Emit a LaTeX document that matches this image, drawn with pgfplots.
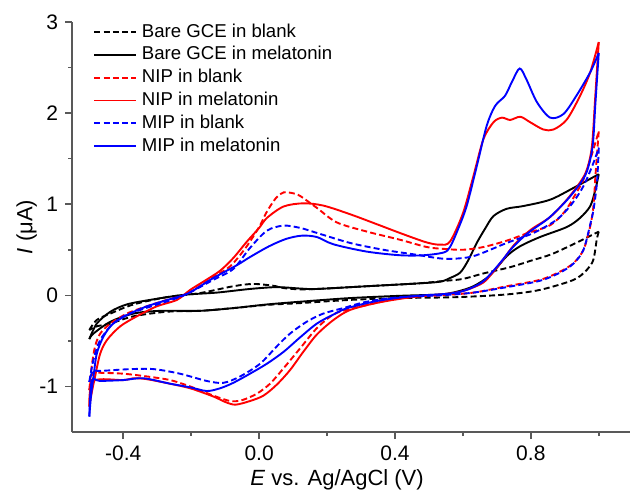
\documentclass[border=0pt]{standalone}
\usepackage{fontspec}
\setmainfont{Liberation Sans}
\usepackage{pgfplots}
\pgfplotsset{compat=1.18}
\tikzset{mydash/.style={dash pattern=on 3pt off 1.6pt}}
\begin{document}
\begin{tikzpicture}
\begin{axis}[
name=ax,
scale only axis,
width=279pt, height=205pt,
xmin=-0.551, xmax=1.092, ymin=-1.5, ymax=3,
axis lines=left,
axis line style={-, line width=0.9pt, black!65},
tick style={black!65, line width=0.8pt},
tick align=outside,
major tick length=3.5pt,
minor tick length=2pt,
xtick={-0.4,0,0.4,0.8}, xticklabels={-0.4,0.0,0.4,0.8},
minor xtick={-0.2,0.2,0.6,1.0},
ytick={-1,0,1,2,3}, yticklabels={-1,0,1,2,3},
minor ytick={-0.5,0.5,1.5,2.5},
tick label style={font=\fontsize{10.5}{12}\selectfont},
xlabel={\textit{E} vs. Ag/AgCl (V)},
ylabel={\textit{I} (μA)},
label style={font=\fontsize{11}{13}\selectfont},
xlabel style={at={(axis description cs:0.475,-0.117)}, anchor=center},
ylabel style={at={(axis description cs:-0.081,0.5)}, anchor=center},
legend style={at={(axis description cs:0.027,1.012)}, anchor=north west, draw=none, fill=none,
  font=\fontsize{9.3}{11}\selectfont, nodes={inner sep=0.8pt, text height=7pt, text depth=2pt}, row sep=0.8pt, column sep=1.5pt},
legend cell align=left,
legend image code/.code={\draw[#1] (0pt,0pt) -- (21pt,0pt);},
every axis plot/.append style={line width=0.95pt, smooth, tension=0.5},
]
% Bare GCE in blank
\addplot[black, mydash] coordinates {
(-0.500,-0.38) (-0.478,-0.27) (-0.438,-0.20) (-0.37,-0.10) (-0.272,-0.02) (-0.174,0.025) (-0.076,0.10) (-0.017,0.125) (0.042,0.105) (0.072,0.08) (0.121,0.065) (0.17,0.07) (0.317,0.10) (0.464,0.13) (0.55,0.16) (0.60,0.18) (0.66,0.24) (0.74,0.31) (0.80,0.38) (0.86,0.45) (0.93,0.57) (1.0,0.70)};
\addlegendentry{Bare GCE in blank}
\addplot[black, mydash, forget plot] coordinates {
(1.0,0.70) (0.994,0.61) (0.984,0.39) (0.965,0.28) (0.926,0.17) (0.827,0.06) (0.729,0.01) (0.582,-0.02) (0.415,-0.03) (0.268,-0.05) (0.121,-0.085) (0.023,-0.105) (-0.076,-0.14) (-0.174,-0.17) (-0.272,-0.18) (-0.37,-0.23) (-0.438,-0.31) (-0.478,-0.34) (-0.5,-0.38)};
% Bare GCE in melatonin
\addplot[black] coordinates {
(-0.5,-0.48) (-0.478,-0.31) (-0.438,-0.18) (-0.39,-0.10) (-0.321,-0.05) (-0.223,0.005) (-0.125,0.03) (-0.027,0.07) (0.052,0.09) (0.12,0.075) (0.17,0.07) (0.317,0.10) (0.464,0.13) (0.533,0.15) (0.562,0.19) (0.592,0.25) (0.615,0.38) (0.64,0.57) (0.665,0.73) (0.69,0.87) (0.729,0.95) (0.778,0.98) (0.857,1.05) (0.926,1.18) (1.0,1.33)};
\addlegendentry{Bare GCE in melatonin}
\addplot[black, forget plot] coordinates {
(1.0,1.33) (0.99,1.16) (0.975,0.98) (0.945,0.85) (0.906,0.75) (0.827,0.64) (0.769,0.54) (0.729,0.43) (0.68,0.22) (0.631,0.10) (0.582,0.04) (0.533,0.01) (0.415,-0.005) (0.268,-0.03) (0.121,-0.07) (0.023,-0.10) (-0.076,-0.14) (-0.174,-0.17) (-0.291,-0.17) (-0.37,-0.20) (-0.438,-0.29) (-0.488,-0.42) (-0.5,-0.48)};
% NIP in blank
\addplot[red, mydash] coordinates {
(-0.5,-1.04) (-0.493,-0.78) (-0.483,-0.56) (-0.468,-0.42) (-0.438,-0.31) (-0.389,-0.20) (-0.331,-0.12) (-0.272,-0.05) (-0.21,0.02) (-0.135,0.20) (-0.085,0.32) (-0.04,0.52) (0.0,0.75) (0.023,0.92) (0.05,1.07) (0.072,1.13) (0.10,1.12) (0.121,1.09) (0.17,0.96) (0.229,0.80) (0.317,0.70) (0.415,0.61) (0.494,0.53) (0.543,0.51) (0.60,0.50) (0.66,0.53) (0.729,0.60) (0.788,0.68) (0.857,0.77) (0.90,0.92) (0.93,1.10) (0.955,1.27) (0.975,1.49) (1.0,1.80)};
\addlegendentry{NIP in blank}
\addplot[red, mydash, forget plot] coordinates {
(1.0,1.80) (0.99,1.3) (0.985,1.0) (0.975,0.76) (0.955,0.50) (0.926,0.355) (0.886,0.26) (0.827,0.17) (0.729,0.10) (0.631,0.03) (0.533,0.0) (0.415,-0.03) (0.268,-0.15) (0.219,-0.21) (0.17,-0.36) (0.121,-0.58) (0.072,-0.80) (0.032,-0.97) (-0.007,-1.08) (-0.05,-1.15) (-0.085,-1.16) (-0.135,-1.10) (-0.203,-1.00) (-0.262,-0.93) (-0.331,-0.89) (-0.40,-0.86) (-0.468,-0.85) (-0.49,-0.85) (-0.5,-1.04)};
% NIP in melatonin
\addplot[red] coordinates {
(-0.5,-1.22) (-0.492,-1.05) (-0.483,-0.89) (-0.468,-0.64) (-0.448,-0.49) (-0.409,-0.34) (-0.36,-0.23) (-0.301,-0.12) (-0.242,-0.05) (-0.203,0.06) (-0.16,0.16) (-0.115,0.27) (-0.076,0.41) (-0.036,0.59) (0.0,0.74) (0.023,0.85) (0.072,0.975) (0.13,1.01) (0.189,0.985) (0.268,0.89) (0.347,0.78) (0.425,0.67) (0.494,0.58) (0.533,0.556) (0.562,0.59) (0.60,0.90) (0.631,1.31) (0.66,1.71) (0.69,1.90) (0.715,1.95) (0.739,1.925) (0.769,1.96) (0.798,1.90) (0.837,1.82) (0.867,1.82) (0.906,1.93) (0.945,2.19) (0.975,2.45) (1.0,2.78)};
\addlegendentry{NIP in melatonin}
\addplot[red, forget plot] coordinates {
(1.0,2.78) (0.99,2.2) (0.98,1.64) (0.965,1.38) (0.945,1.24) (0.906,1.05) (0.857,0.86) (0.80,0.72) (0.75,0.55) (0.72,0.40) (0.69,0.26) (0.66,0.14) (0.611,0.06) (0.562,0.02) (0.45,-0.02) (0.35,-0.08) (0.268,-0.16) (0.219,-0.27) (0.17,-0.43) (0.13,-0.62) (0.091,-0.82) (0.052,-0.98) (0.013,-1.10) (-0.027,-1.16) (-0.07,-1.20) (-0.10,-1.17) (-0.135,-1.11) (-0.203,-1.02) (-0.262,-0.97) (-0.331,-0.92) (-0.37,-0.91) (-0.40,-0.93) (-0.488,-0.94) (-0.5,-1.22)};
% MIP in blank
\addplot[blue, mydash] coordinates {
(-0.5,-0.95) (-0.492,-0.78) (-0.483,-0.64) (-0.468,-0.49) (-0.438,-0.34) (-0.40,-0.23) (-0.35,-0.16) (-0.30,-0.10) (-0.25,-0.04) (-0.21,0.02) (-0.135,0.17) (-0.076,0.29) (-0.027,0.52) (0.023,0.71) (0.072,0.765) (0.121,0.74) (0.17,0.685) (0.268,0.575) (0.366,0.50) (0.464,0.445) (0.523,0.41) (0.562,0.40) (0.631,0.43) (0.729,0.575) (0.808,0.685) (0.876,0.83) (0.92,1.0) (0.955,1.2) (0.984,1.45) (1.0,1.62)};
\addlegendentry{MIP in blank}
\addplot[blue, mydash, forget plot] coordinates {
(1.0,1.62) (0.995,1.25) (0.985,0.95) (0.975,0.78) (0.955,0.50) (0.926,0.35) (0.886,0.25) (0.827,0.16) (0.729,0.09) (0.631,0.03) (0.533,0.0) (0.415,-0.02) (0.317,-0.07) (0.248,-0.14) (0.189,-0.20) (0.14,-0.29) (0.091,-0.42) (0.052,-0.56) (0.003,-0.75) (-0.056,-0.89) (-0.105,-0.96) (-0.154,-0.94) (-0.233,-0.86) (-0.31,-0.81) (-0.38,-0.81) (-0.468,-0.83) (-0.49,-0.83) (-0.5,-0.95)};
% MIP in melatonin
\addplot[blue] coordinates {
(-0.5,-1.33) (-0.495,-1.1) (-0.488,-0.90) (-0.478,-0.64) (-0.458,-0.45) (-0.43,-0.31) (-0.38,-0.20) (-0.33,-0.12) (-0.27,-0.05) (-0.21,0.02) (-0.135,0.19) (-0.066,0.33) (-0.027,0.42) (0.03,0.54) (0.08,0.62) (0.126,0.655) (0.17,0.64) (0.219,0.56) (0.317,0.48) (0.415,0.44) (0.484,0.44) (0.543,0.47) (0.562,0.53) (0.585,0.72) (0.611,0.98) (0.641,1.42) (0.67,1.86) (0.695,2.08) (0.724,2.19) (0.744,2.34) (0.767,2.49) (0.787,2.37) (0.818,2.12) (0.857,1.95) (0.896,1.99) (0.934,2.19) (0.975,2.45) (1.0,2.66)};
\addlegendentry{MIP in melatonin}
\addplot[blue, forget plot] coordinates {
(1.0,2.66) (0.99,2.1) (0.982,1.64) (0.965,1.36) (0.94,1.2) (0.90,1.02) (0.85,0.84) (0.79,0.68) (0.745,0.52) (0.715,0.38) (0.685,0.25) (0.655,0.14) (0.611,0.06) (0.562,0.02) (0.45,-0.01) (0.35,-0.06) (0.26,-0.14) (0.219,-0.21) (0.17,-0.31) (0.121,-0.46) (0.072,-0.62) (0.023,-0.75) (-0.027,-0.86) (-0.076,-0.96) (-0.115,-1.02) (-0.154,-1.05) (-0.203,-1.01) (-0.262,-0.97) (-0.341,-0.91) (-0.40,-0.93) (-0.468,-0.94) (-0.493,-0.94) (-0.5,-1.33)};
\end{axis}
\pgfresetboundingbox
\path[use as bounding box] ([xshift=-36pt,yshift=-30.5pt]ax.south west) rectangle ([yshift=11pt]ax.north east);
\end{tikzpicture}
\end{document}
